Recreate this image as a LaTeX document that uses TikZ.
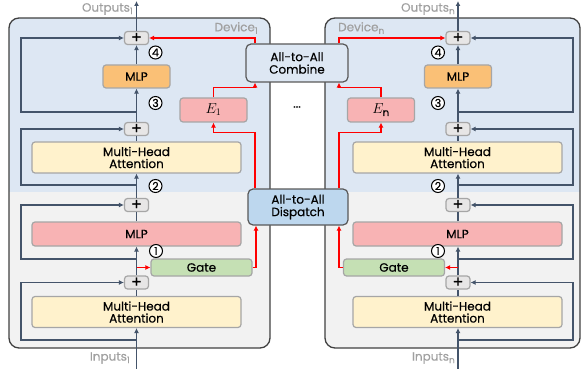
\documentclass[tikz,border=0pt]{standalone}
\usepackage{fontspec}
\setmainfont{Poppins}[UprightFeatures={FakeBold=0.4}]
\usetikzlibrary{arrows.meta}

\definecolor{bgblue}{RGB}{221,231,243}
\definecolor{bggrey}{RGB}{242,242,242}
\definecolor{framecol}{RGB}{64,64,64}
\definecolor{flow}{RGB}{68,84,106}
\definecolor{boxline}{RGB}{166,166,166}
\definecolor{mlporange}{RGB}{250,192,118}
\definecolor{expertpink}{RGB}{248,179,180}
\definecolor{gategreen}{RGB}{197,224,180}
\definecolor{attnyellow}{RGB}{255,242,204}
\definecolor{plusgrey}{RGB}{231,230,230}
\definecolor{commline}{RGB}{89,89,89}
\definecolor{dispatchblue}{RGB}{189,215,238}
\definecolor{labelgrey}{RGB}{160,160,160}

\newcommand{\idx}[1]{\raisebox{-2.5pt}{\fontsize{9}{9}\selectfont #1}}

\tikzset{
  blk/.style={draw=boxline, line width=1.2pt, rounded corners=3pt, inner sep=0pt,
    align=center, font=\fontsize{12}{12}\selectfont},
  plusbox/.style={blk, fill=plusgrey, minimum width=24pt, minimum height=13pt,
    font=\fontsize{16}{16}\selectfont},
  comm/.style={draw=commline, line width=1.2pt, rounded corners=5pt, inner sep=0pt,
    align=center, font=\fontsize{12}{12.5}\selectfont},
  flowline/.style={draw=flow, line width=1.3pt},
  flowarrow/.style={flowline, -{Latex[length=5pt,width=5pt]}},
  redarrow/.style={draw=red, line width=1.3pt, -{Latex[length=5pt,width=5pt]}},
  stepnum/.style={circle, draw=black, fill=white, line width=1pt, minimum size=13pt,
    inner sep=0pt, font=\fontsize{11}{11}\selectfont},
  glabel/.style={text=labelgrey, inner sep=0pt, font=\fontsize{12}{12}\selectfont},
  expert/.style={blk, fill=expertpink, minimum width=67pt, minimum height=24pt,
    font=\fontsize{14.5}{14.5}\selectfont},
}

\begin{document}
\begin{tikzpicture}[x=1pt,y=-1pt]
\useasboundingbox (0,0) rectangle (582,369);

% device frames: blue upper half, grey lower half
\foreach \xa/\xb in {9/270, 325/580} {
  \begin{scope}
    \clip[rounded corners=10pt] (\xa,18) rectangle (\xb,348);
    \fill[bgblue] (\xa,18) rectangle (\xb,192);
    \fill[bggrey] (\xa,192) rectangle (\xb,348);
  \end{scope}
  \draw[framecol, line width=1.3pt, rounded corners=10pt] (\xa,18) rectangle (\xb,348);
}

% ---------- device 1 ----------
\node[plusbox] (pA1) at (136.5,38) {+};
\node[plusbox] (pB1) at (136.5,129) {+};
\node[plusbox] (pC1) at (136.5,205) {+};
\node[plusbox] (pD1) at (136.5,282.5) {+};
\node[blk, fill=mlporange, minimum width=67pt, minimum height=23pt] (mo1) at (136.5,76.5) {MLP};
\node[blk, fill=attnyellow, minimum width=209pt, minimum height=31pt] (at1) at (136.5,157.5) {Multi-Head\\Attention};
\node[blk, fill=expertpink, minimum width=209pt, minimum height=24pt] (mr1) at (136.5,234) {MLP};
\node[blk, fill=gategreen, minimum width=101pt, minimum height=17pt] (g1) at (201.5,267.5) {Gate};
\node[blk, fill=attnyellow, minimum width=209pt, minimum height=31pt] (ab1) at (136.5,312) {Multi-Head\\Attention};
\node[expert] (e1) at (213.5,110) {$E_1$};

% ---------- device n ----------
\node[plusbox] (pAn) at (458,38) {+};
\node[plusbox] (pBn) at (458,129) {+};
\node[plusbox] (pCn) at (458,205) {+};
\node[plusbox] (pDn) at (458,282.5) {+};
\node[blk, fill=mlporange, minimum width=67pt, minimum height=23pt] (mon) at (458,76.5) {MLP};
\node[blk, fill=attnyellow, minimum width=209pt, minimum height=31pt] (atn) at (457.5,157.5) {Multi-Head\\Attention};
\node[blk, fill=expertpink, minimum width=209pt, minimum height=24pt] (mrn) at (457.5,234) {MLP};
\node[blk, fill=gategreen, minimum width=101pt, minimum height=17pt] (gn) at (394,267.5) {Gate};
\node[blk, fill=attnyellow, minimum width=209pt, minimum height=31pt] (abn) at (457.5,312) {Multi-Head\\Attention};
\node[expert] (en) at (381,110) {$E_{\mathrm{n}}$};

% ---------- all-to-all communication ----------
\node[comm, fill=bgblue, minimum width=102pt, minimum height=38pt] (cmb) at (297,63) {All-to-All\\Combine};
\node[comm, fill=dispatchblue, minimum width=100pt, minimum height=36pt] (dsp) at (298,207) {All-to-All\\Dispatch};
\node[font=\fontsize{12}{12}\selectfont] (dots) at (297,107) {...};

% ---------- residual stream, device 1 ----------
\coordinate (in1) at (136.5,369);
\coordinate (out1) at (136.5,1);
\coordinate (s1a) at (136.5,340);
\coordinate (s1b) at (136.5,259);
\coordinate (s1c) at (136.5,185);
\coordinate (s1d) at (136.5,112);
\coordinate (g1src) at (136.5,267.5);

\draw[flowarrow] (in1) -- (ab1);
\draw[flowarrow] (s1a) -- ++(-115.5,0) |- (pD1);
\draw[flowline] (ab1) -- (pD1);
\draw[flowarrow] (pD1) -- (mr1);
\draw[flowarrow] (s1b) -- ++(-115.5,0) |- (pC1);
\draw[flowline] (mr1) -- (pC1);
\draw[flowarrow] (pC1) -- (at1);
\draw[flowarrow] (s1c) -- ++(-115.5,0) |- (pB1);
\draw[flowline] (at1) -- (pB1);
\draw[flowarrow] (pB1) -- (mo1);
\draw[flowarrow] (s1d) -- ++(-115.5,0) |- (pA1);
\draw[flowarrow] (mo1) -- (pA1);
\draw[flowarrow] (pA1) -- (out1);

% ---------- residual stream, device n ----------
\coordinate (inn) at (458,369);
\coordinate (outn) at (458,1);
\coordinate (sna) at (458,340);
\coordinate (snb) at (458,259);
\coordinate (snc) at (458,185);
\coordinate (snd) at (458,112);
\coordinate (gnsrc) at (458,267.5);

\draw[flowarrow] (inn) -- (abn.south -| inn);
\draw[flowarrow] (sna) -- ++(115,0) |- (pDn);
\draw[flowline] (abn.north -| inn) -- (pDn);
\draw[flowarrow] (pDn) -- (mrn.south -| inn);
\draw[flowarrow] (snb) -- ++(115,0) |- (pCn);
\draw[flowline] (mrn.north -| inn) -- (pCn);
\draw[flowarrow] (pCn) -- (atn.south -| inn);
\draw[flowarrow] (snc) -- ++(115,0) |- (pBn);
\draw[flowline] (atn.north -| inn) -- (pBn);
\draw[flowarrow] (pBn) -- (mon);
\draw[flowarrow] (snd) -- ++(115,0) |- (pAn);
\draw[flowarrow] (mon) -- (pAn);
\draw[flowarrow] (pAn) -- (outn);

% ---------- expert routing ----------
\draw[redarrow] (g1src) -- (g1);
\draw[redarrow] (g1.east) -| ([xshift=-42pt]dsp.south);
\draw[redarrow] ([xshift=-43pt]dsp.north) -- ++(0,-56) -| (e1.south);
\draw[redarrow] (e1.north) -- ++(0,-10) -| ([xshift=-42pt]cmb.south);
\draw[redarrow] ([xshift=-42pt]cmb.north) |- (pA1.east);

\draw[redarrow] (gnsrc) -- (gn);
\draw[redarrow] (gn.west) -| ([xshift=41pt]dsp.south);
\draw[redarrow] ([xshift=41pt]dsp.north) -- ++(0,-56) -| (en.south);
\draw[redarrow] (en.north) -- ++(0,-10) -| ([xshift=42pt]cmb.south);
\draw[redarrow] ([xshift=42pt]cmb.north) |- (pAn.west);

% ---------- step markers ----------
\node[stepnum] (n41) at (155.5,52.5) {4};
\node[stepnum] (n31) at (155.5,103) {3};
\node[stepnum] (n21) at (155.5,186) {2};
\node[stepnum] (n11) at (156,251) {1};
\node[stepnum] (n4n) at (438,52.5) {4};
\node[stepnum] (n3n) at (438,103) {3};
\node[stepnum] (n2n) at (438,186) {2};
\node[stepnum] (n1n) at (438,251) {1};

% ---------- labels ----------
\node[glabel, anchor=east] (lo1) at (133,9) {Outputs\idx{1}};
\node[glabel, anchor=east] (li1) at (130,358) {Inputs\idx{1}};
\node[glabel, anchor=east] (lon) at (455,9) {Outputs\idx{n}};
\node[glabel, anchor=east] (lin) at (455,358) {Inputs\idx{n}};
\node[glabel, anchor=east] (ld1) at (258,28) {Device\idx{1}};
\node[glabel, anchor=west] (ldn) at (338,28) {Device\idx{n}};
\end{tikzpicture}
\end{document}
